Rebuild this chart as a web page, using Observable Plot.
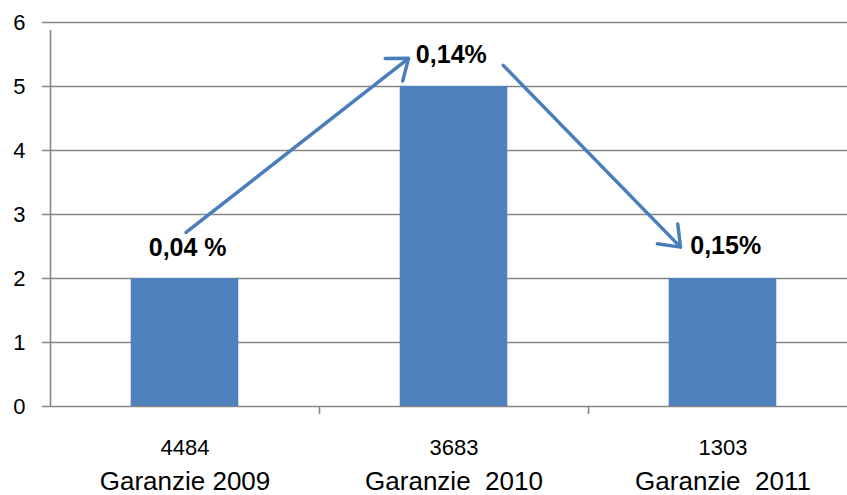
<!DOCTYPE html>
<html>
<head>
<meta charset="utf-8">
<script src="https://cdn.jsdelivr.net/npm/d3@7"></script>
<script src="https://cdn.jsdelivr.net/npm/@observablehq/plot@0.6"></script>
<style>
  html, body { margin: 0; padding: 0; background: #fff; overflow: hidden; }
  svg text { white-space: pre; }
</style>
</head>
<body>
<div id="chart"></div>
<script>
// ---- data ----
const categories = ["Garanzie 2009", "Garanzie  2010", "Garanzie  2011"];
const counts = ["4484", "3683", "1303"];
const values = [2, 5, 2];
const rateLabels = ["0,04 %", "0,14%", "0,15%"];
// annotation anchors (x in category units, y in value units)
const rateX = [0.51, 1.49, 2.51];
const rateY = [2.48, 5.49, 2.51];
const arrowX1 = [0.504, 1.683];
const arrowY1 = [2.72, 5.33];
const arrowX2 = [1.331, 2.342];
const arrowY2 = [5.44, 2.49];
const yTicks = [0, 1, 2, 3, 4, 5, 6];

// ---- tables ----
const bars = categories.map((c, i) => ({i, cat: c, count: counts[i], value: values[i]}));
const rates = rateLabels.map((t, i) => ({t, x: rateX[i], y: rateY[i]}));
const arrows = arrowX1.map((x, i) => ({x1: x, y1: arrowY1[i], x2: arrowX2[i], y2: arrowY2[i]}));

const barColor = "#4f81bd";
const gridColor = "#868686";
const font = "'Liberation Sans', Arial, sans-serif";

const chart = Plot.plot({
  width: 847,
  height: 495,
  marginLeft: 50,
  marginRight: -10,
  marginTop: 22,
  marginBottom: 89,
  style: {fontFamily: font, background: "#fff", overflow: "visible"},
  x: {domain: [0, 3], axis: null},
  y: {domain: [0, 6], axis: null},
  marks: [
    Plot.ruleY(yTicks, {stroke: gridColor, strokeWidth: 1.6, insetLeft: -8}),
    Plot.rectY(bars, {x1: d => d.i + 0.3, x2: d => d.i + 0.7, y: "value", fill: barColor}),
    Plot.ruleX([0], {y1: 0, y2: 6, stroke: gridColor, strokeWidth: 1.6, insetBottom: -8}),
    Plot.ruleX([1, 2], {y1: 0, y2: 0, stroke: gridColor, strokeWidth: 1.6, insetBottom: -8}),
    Plot.text(yTicks, {x: 0, y: d => d, text: d => String(d), textAnchor: "end", dx: -25, fontSize: 22, fill: "#000"}),
    Plot.text(bars, {x: d => d.i + 0.5, frameAnchor: "bottom", text: "count", dy: 41, fontSize: 22, fill: "#000", lineAnchor: "middle"}),
    Plot.text(bars, {x: d => d.i + 0.5, frameAnchor: "bottom", text: "cat", dy: 75, fontSize: 26, fill: "#000", lineAnchor: "middle"}),
    Plot.arrow(arrows, {x1: "x1", y1: "y1", x2: "x2", y2: "y2", stroke: "#4a7ebb", strokeWidth: 3.5, headLength: 10, headAngle: 75}),
    Plot.text(rates, {x: "x", y: "y", text: "t", fontSize: 25, fontWeight: "bold", fill: "#000", lineAnchor: "middle"})
  ]
});
document.getElementById("chart").appendChild(chart);
</script>
</body>
</html>
